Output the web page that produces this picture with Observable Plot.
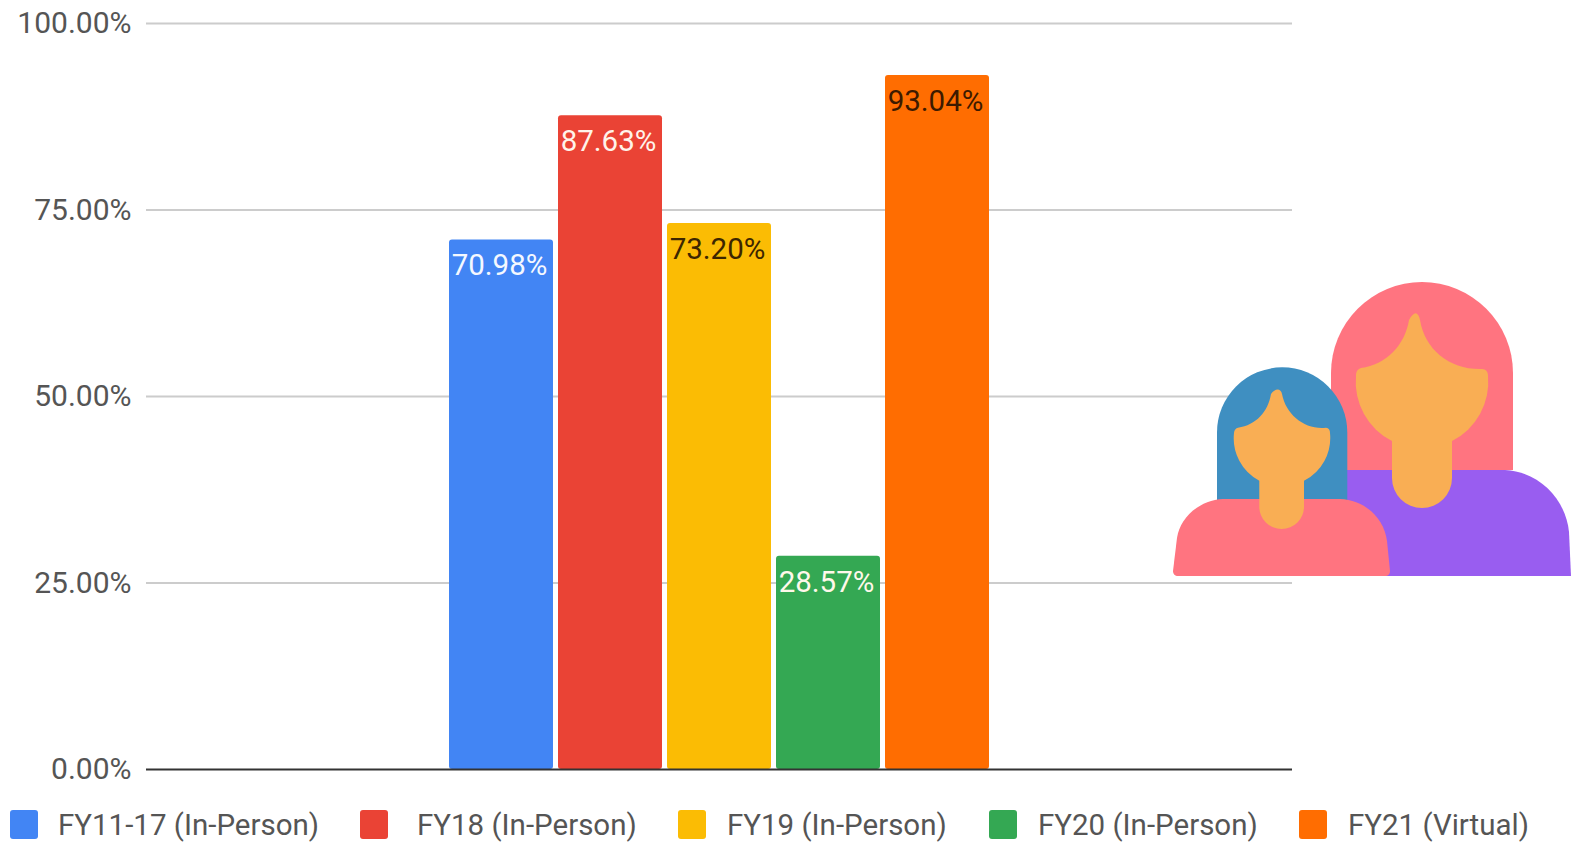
<!DOCTYPE html>
<html><head><meta charset="utf-8">
<script src="https://cdn.jsdelivr.net/npm/d3@7"></script>
<script src="https://cdn.jsdelivr.net/npm/@observablehq/plot@0.6"></script>
<style>
html,body{margin:0;padding:0;background:#fff;overflow:hidden}
#chart svg{display:block}
#legend{position:relative;height:42px;font:29.5px Roboto,sans-serif;color:#555}
#legend i{position:absolute;top:10px;width:28px;height:29px;border-radius:3px}
#legend span{position:absolute;top:8px;line-height:34px;white-space:nowrap}
</style></head><body>
<div id="chart"></div><div id="legend"></div>
<script>
const categories = ["FY11-17 (In-Person)","FY18 (In-Person)","FY19 (In-Person)","FY20 (In-Person)","FY21 (Virtual)"];
const values = [70.98,87.63,73.20,28.57,93.04];
const colors = ["#4285F4","#EA4335","#FBBC04","#34A853","#FF6D01"];
const labelColors = ["#f4f8ff","#fff3ea","#3d2600","#fff8ea","#3d1a00"];
const yTicks = [0,25,50,75,100];
const rows = categories.map((c,i)=>({c,v:values[i],color:colors[i],lc:labelColors[i]}));

function icon(){
  const g = d3.create("svg:g");
  const P = (d,f)=>g.append("path").attr("d",d).attr("fill",f);
  const hairA="#FF7480", skin="#F9AE54", purple="#995DF0", blue="#3F8FC1";
  P("M1331 470V373A91 91 0 0 1 1513 373V470Z",hairA);
  P("M1272 576V470H1505C1540 472 1566 500 1569 532L1571 576Z",purple);
  P("M1409 320C1414 311 1418 311 1420 320C1425 350 1450 370 1482 369C1486 369 1488 372 1488 376A66 66 0 0 1 1452 441V478A30 30 0 0 1 1392 478V441A66 66 0 0 1 1356 376C1356 371 1358 369 1361 368C1386 365 1405 345 1409 320Z",skin);
  P("M1217 505V432.500A65.150 65.150 0 0 1 1347.300 432.500V505Z",blue);
  P("M1223 499H1340C1365 500 1384 518 1387 541L1390 571C1390 574 1388 576 1385 576H1178C1175 576 1173 574 1173 571L1177 538C1180 517 1200 500 1223 499Z",hairA);
  P("M1271 394C1275 388 1281 388 1282 394C1286 415 1305 430 1326 427.700C1329 428 1330 430 1330 433A48 48 0 0 1 1304 480.700V506.700A22 22 0 0 1 1259.300 506.700V480.700A48 48 0 0 1 1234 433C1234 430 1236 428 1238 427.700C1256 425 1268 412 1271 394Z",skin);
  return g.node();
}

const plot = Plot.plot({
  width:1571, height:800,
  marginLeft:146, marginRight:279, marginTop:23, marginBottom:31,
  style:{fontFamily:"Roboto, sans-serif",background:"#fff",overflow:"visible"},
  x:{domain:categories,range:[442.2,994.8],padding:0.05,axis:null},
  y:{domain:[0,100],label:null},
  marks:[
    Plot.ruleY(yTicks.filter(d=>d>0),{stroke:"#cccccc",strokeWidth:2}),
    Plot.axisY(yTicks,{tickSize:0,tickPadding:15,label:null,tickFormat:d=>d.toFixed(2)+"%",fontSize:30,fill:"#555",anchor:"left"}),
    Plot.barY(rows,{x:"c",y:"v",fill:"color",rx:3}),
    Plot.ruleY([0],{stroke:"#333",strokeWidth:2}),
    Plot.text(rows,{x:"c",y:"v",text:d=>d.v.toFixed(2)+"%",fill:"lc",fontSize:29.500,dy:26,dx:-2}),
    icon
  ]
});
document.getElementById("chart").append(plot);

const swatchLeft=[10,360,678,989,1299], textLeft=[58,417,727,1038,1348];
const lg=d3.select("#legend");
categories.forEach((c,i)=>{
  lg.append("i").style("left",swatchLeft[i]+"px").style("background",colors[i]);
  lg.append("span").style("left",textLeft[i]+"px").text(c);
});
</script></body></html>
